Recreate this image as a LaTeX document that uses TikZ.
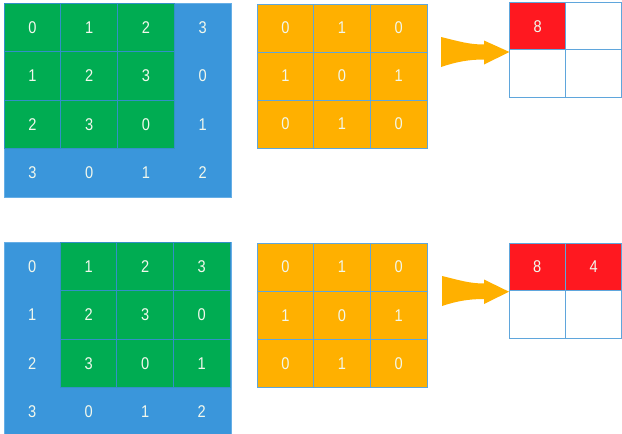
\documentclass[tikz,border=0pt]{standalone}
\usepackage{fontspec}
\setmainfont[FakeStretch=0.86]{Liberation Sans}
\definecolor{bl}{HTML}{3A96DB}
\definecolor{bll}{HTML}{66AEE6}
\definecolor{gr}{HTML}{00AC52}
\definecolor{og}{HTML}{FFB000}
\definecolor{rd}{HTML}{FF1820}
\definecolor{gl}{HTML}{3290C8}
\definecolor{ol}{HTML}{5FA6DC}
\definecolor{tx}{HTML}{F2F8EC}
\begin{document}
\begin{tikzpicture}[x=1pt,y=-1pt,
  every node/.style={font=\fontsize{17}{17}\selectfont, text=tx, inner sep=0pt, outer sep=0pt},
  bigbox/.style={fill=bl, draw=bll, line width=0.8pt, minimum width=227pt, minimum height=194pt, anchor=north west},
  greencell/.style={fill=gr, draw=gl, line width=0.8pt, minimum width=56.75pt, minimum height=48.5pt},
  kcell/.style={fill=og, draw=ol, line width=1pt, minimum width=56.7pt, minimum height=48pt},
  ocell/.style={fill=white, draw=ol, line width=1pt, minimum width=56pt, minimum height=47.5pt},
  redcell/.style={ocell, fill=rd},
  fatarrow/.style={fill=og, draw=none}]
\clip (0,0) rectangle (622,434);
% ---------- top row ----------
\node[bigbox] (A) at (4,3) {};
\foreach \r in {0,...,3} \foreach \c in {0,...,3} {
  \pgfmathtruncatemacro\v{mod(\r+\c,4)}
  \pgfmathtruncatemacro\g{and(\r<3,\c<3)}
  \ifnum\g=1
    \node[greencell] (a-\r-\c) at ({4+56.75*(\c+0.5)},{3+48.5*(\r+0.5)}) {\v};
  \else
    \node (a-\r-\c) at ({4+56.75*(\c+0.5)},{3+48.5*(\r+0.5)}) {\v};
  \fi
}
\foreach \r in {0,1,2} \foreach \c in {0,1,2} {
  \pgfmathtruncatemacro\v{mod(\r+\c,2)}
  \node[kcell] (k-\r-\c) at ({257+56.7*(\c+0.5)},{4+48*(\r+0.5)}) {\v};
}
\node[redcell] (o-0-0) at ({510+55.5*0.5},{3+47*0.5}) {8};
\node[ocell] (o-0-1) at ({510+55.5*1.5},{3+47*0.5}) {};
\node[ocell] (o-1-0) at ({510+55.5*0.5},{3+47*1.5}) {};
\node[ocell] (o-1-1) at ({510+55.5*1.5},{3+47*1.5}) {};
\fill[fatarrow] (441,37) .. controls (458,41) and (468,44.5) .. (484,44.5) -- (484,40.5) -- (509.5,52) -- (484,64.5) -- (484,59.5) .. controls (468,59.5) and (456,62) .. (441,67) -- cycle;
% ---------- bottom row ----------
\node[bigbox] (B) at (4,242) {};
\foreach \r in {0,...,3} \foreach \c in {0,...,3} {
  \pgfmathtruncatemacro\v{mod(\r+\c,4)}
  \pgfmathtruncatemacro\g{and(\r<3,\c>0)}
  \ifnum\g=1
    \node[greencell] (b-\r-\c) at ({4+56.5*(\c+0.5)},{242+48.5*(\r+0.5)}) {\v};
  \else
    \node (b-\r-\c) at ({4+56.5*(\c+0.5)},{242+48.5*(\r+0.5)}) {\v};
  \fi
}
\foreach \r in {0,1,2} \foreach \c in {0,1,2} {
  \pgfmathtruncatemacro\v{mod(\r+\c,2)}
  \node[kcell] (m-\r-\c) at ({257+56.7*(\c+0.5)},{243+48.2*(\r+0.5)}) {\v};
}
\node[redcell] (p-0-0) at ({509+56.5*0.5},{243+47.5*0.5}) {8};
\node[redcell] (p-0-1) at ({509+56.5*1.5},{243+47.5*0.5}) {4};
\node[ocell] (p-1-0) at ({509+56.5*0.5},{243+47.5*1.5}) {};
\node[ocell] (p-1-1) at ({509+56.5*1.5},{243+47.5*1.5}) {};
\fill[fatarrow] (442,276) .. controls (459,280) and (469,283.5) .. (484,283.5) -- (484,279.5) -- (509,291.7) -- (484,304) -- (484,299) .. controls (469,299) and (457,301) .. (442,306) -- cycle;
\end{tikzpicture}
\end{document}
